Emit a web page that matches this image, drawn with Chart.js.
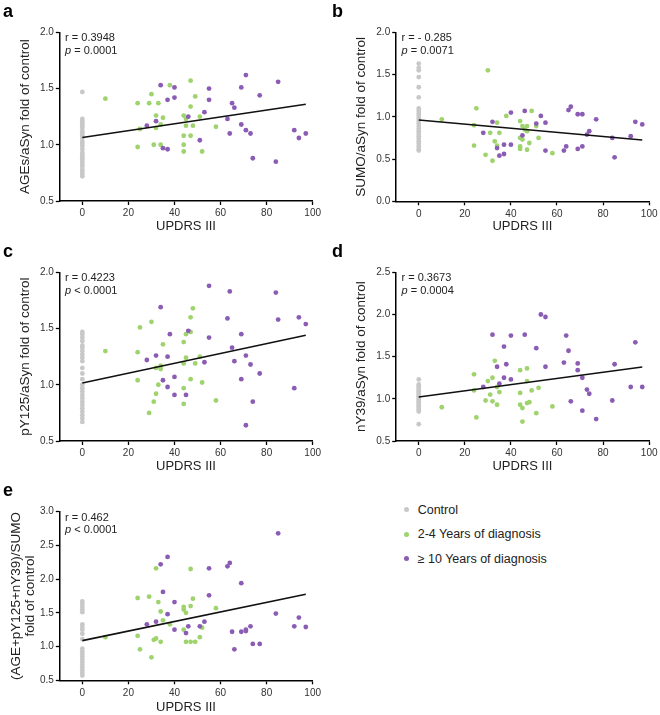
<!DOCTYPE html>
<html><head><meta charset="utf-8">
<script src="https://cdn.jsdelivr.net/npm/chart.js@4.4.0/dist/chart.umd.min.js"></script>
<style>
body{margin:0;background:#fff;width:660px;height:715px;position:relative;overflow:hidden;font-family:"Liberation Sans",Arial,sans-serif;}
canvas{position:absolute;}
.lbl{position:absolute;font-weight:bold;font-size:18px;line-height:18px;color:#000;}
.legend{position:absolute;left:403.5px;top:497.8px;font-size:12.5px;color:#222;}
.legend div{height:24.35px;display:flex;align-items:center;white-space:nowrap;}
.dot{width:5px;height:5px;border-radius:50%;margin-right:9.2px;flex:none;}
</style></head><body>
<canvas id="ca"></canvas><canvas id="cb"></canvas><canvas id="cc"></canvas><canvas id="cd"></canvas><canvas id="ce"></canvas>
<div class="lbl" style="left:3px;top:1.8px">a</div>
<div class="lbl" style="left:332px;top:1.8px">b</div>
<div class="lbl" style="left:3px;top:241.8px">c</div>
<div class="lbl" style="left:332px;top:241.8px">d</div>
<div class="lbl" style="left:3px;top:480.8px">e</div>
<div class="legend">
  <div><span class="dot" style="background:#c8c8c8"></span>Control</div>
  <div><span class="dot" style="background:#9fd36d"></span>2-4 Years of diagnosis</div>
  <div><span class="dot" style="background:#8a5cb4"></span>≥ 10 Years of diagnosis</div>
</div>
<script>
// ---------- DATA ----------
const xTicks = [0, 20, 40, 60, 80, 100];
const seriesNames = ['Control', '2-4 Years of diagnosis', '\u2265 10 Years of diagnosis'];

// Panel a: AGEs/aSyn
const aGrey = [1.47,1.23,1.21,1.19,1.17,1.15,1.12,1.10,1.08,1.06,1.03,1.01,0.99,0.96,0.93,0.91,0.89,0.87,0.85,0.83,0.81,0.78,0.76,0.74,0.72];
const aGreen = [[10,1.41],[24,1.37],[24,0.98],[25,1.14],[29,1.37],[30,1.45],[31,1.00],[32,1.26],[32,1.15],[33,1.37],[34,1.18],[34,1.00],[35,1.24],[38,1.53],[44,1.26],[44,1.08],[44,1.00],[44,0.94],[45,1.23],[45,1.17],[47,1.57],[47,1.34],[47,1.08],[48,1.17],[49,1.43],[51,1.25],[52,0.94],[58,1.16]];
const aPurple = [[28,1.17],[32,1.21],[34,1.53],[35,0.97],[37,0.96],[37,1.40],[40,1.51],[40,1.42],[46,1.25],[51,1.04],[53,1.29],[55,1.50],[55,1.40],[63,1.23],[64,1.10],[65,1.37],[66,1.33],[69,1.51],[69,1.18],[71,1.62],[71,1.13],[73,1.10],[74,0.88],[77,1.44],[84,0.85],[85,1.56],[92,1.13],[94,1.06],[97,1.10]];
const aLine = [[0,1.065],[97,1.36]];
const aYTicks = [0.5,1.0,1.5,2.0];

// Panel b: SUMO/aSyn
const bGrey = [1.63,1.58,1.55,1.47,1.35,1.23,1.10,1.07,1.04,1.01,0.98,0.95,0.92,0.89,0.86,0.83,0.80,0.77,0.74,0.71,0.68,0.65,0.62,0.60];
const bGreen = [[10,0.97],[25,1.10],[24,0.90],[24,0.66],[29,0.55],[30,1.55],[31,0.81],[32,0.48],[33,0.71],[34,0.66],[34,0.93],[35,0.81],[38,1.01],[44,0.95],[44,0.75],[44,0.65],[44,0.62],[45,0.89],[45,0.73],[46,0.85],[47,0.89],[47,0.83],[47,0.61],[48,0.69],[49,1.07],[51,0.89],[52,0.75],[58,0.57]];
const bPurple = [[28,0.81],[32,0.94],[34,0.63],[35,0.54],[37,0.67],[37,0.56],[40,1.05],[40,0.67],[45,0.78],[46,1.07],[51,0.92],[53,1.01],[55,0.93],[55,0.60],[63,0.60],[64,0.65],[65,1.08],[66,1.12],[69,1.03],[69,0.62],[71,1.03],[71,0.65],[73,0.79],[74,0.83],[77,0.97],[84,0.75],[85,0.52],[92,0.77],[94,0.94],[97,0.91]];
const bLine = [[0,0.963],[97,0.726]];
const bYTicks = [0.0,0.5,1.0,1.5,2.0];

// Panel c: pY125/aSyn
const cGrey = [1.47,1.45,1.42,1.39,1.35,1.33,1.30,1.27,1.24,1.21,1.15,1.10,1.05,1.00,0.97,0.94,0.91,0.88,0.85,0.82,0.79,0.76,0.73,0.70,0.67];
const cGreen = [[10,1.30],[24,1.29],[24,1.04],[25,1.51],[29,0.75],[30,1.56],[31,0.85],[32,0.92],[32,1.15],[33,1.00],[34,1.17],[34,1.14],[35,1.36],[44,1.38],[44,1.19],[44,0.97],[44,0.83],[45,1.45],[45,1.24],[47,1.60],[47,1.47],[47,1.05],[48,1.68],[49,1.19],[51,1.25],[52,1.02],[58,0.86]];
const cPurple = [[28,1.22],[32,1.26],[34,1.69],[35,1.04],[37,0.98],[37,1.25],[38,1.45],[40,1.07],[40,0.91],[45,0.91],[46,1.48],[53,1.20],[55,1.88],[55,1.42],[63,1.59],[64,1.83],[65,1.33],[66,1.21],[69,1.45],[69,1.05],[71,1.26],[71,0.64],[73,1.18],[74,0.85],[77,1.10],[84,1.82],[85,1.58],[92,0.97],[94,1.60],[97,1.54]];
const cLine = [[0,1.016],[97,1.44]];
const cYTicks = [0.5,1.0,1.5,2.0];

// Panel d: nY39/aSyn
const dGrey = [1.23,1.17,1.15,1.13,1.11,1.09,1.07,1.05,1.03,1.01,0.99,0.97,0.95,0.93,0.91,0.89,0.87,0.85,0.70];
const dGreen = [[10,0.90],[24,1.29],[24,1.10],[25,0.78],[29,0.98],[30,1.21],[31,1.05],[32,1.25],[32,0.97],[33,1.45],[34,0.93],[34,1.14],[35,1.08],[44,1.34],[44,1.07],[44,0.93],[45,0.89],[45,0.73],[47,1.36],[47,1.21],[47,0.95],[48,0.96],[49,1.10],[51,0.83],[52,1.13],[58,0.91]];
const dPurple = [[28,1.14],[32,1.76],[34,1.38],[35,1.18],[37,1.62],[37,1.25],[38,1.41],[40,1.75],[40,1.23],[46,1.76],[51,1.60],[53,2.00],[55,1.97],[55,1.38],[63,1.43],[64,1.75],[65,1.57],[66,0.97],[69,1.42],[69,1.34],[71,1.25],[71,0.86],[73,1.11],[74,1.06],[77,0.76],[84,0.98],[85,1.41],[92,1.14],[94,1.67],[97,1.14]];
const dLine = [[0,1.022],[97,1.377]];
const dYTicks = [0.5,1.0,1.5,2.0,2.5];

// Panel e: (AGE+pY125+nY39)/SUMO
const eGrey = [1.67,1.63,1.59,1.55,1.51,1.33,1.29,1.25,1.19,1.11,0.97,0.93,0.89,0.85,0.81,0.77,0.73,0.69,0.65,0.61,0.57];
const eGreen = [[10,1.14],[24,1.72],[24,1.16],[25,0.96],[29,1.74],[30,0.84],[31,1.10],[32,2.16],[32,1.12],[33,1.66],[34,1.52],[34,1.07],[35,1.39],[38,1.33],[44,1.59],[44,1.55],[44,1.25],[45,1.50],[45,1.07],[47,2.15],[47,1.60],[47,1.07],[48,1.71],[49,1.07],[51,1.14],[52,1.28],[58,1.57]];
const ePurple = [[28,1.33],[32,1.37],[34,2.22],[35,1.81],[37,1.48],[37,2.33],[40,1.66],[40,1.25],[45,1.20],[46,1.30],[51,1.30],[53,1.37],[55,2.16],[55,1.76],[63,2.19],[64,2.24],[65,1.22],[66,0.96],[69,1.94],[69,1.22],[71,1.23],[71,1.25],[73,1.30],[74,1.04],[77,1.04],[84,1.49],[85,2.68],[92,1.30],[94,1.43],[97,1.29]];
const eLine = [[0,1.088],[97,1.775]];
const eYTicks = [0.5,1.0,1.5,2.0,2.5,3.0];

// ---------- RENDER ----------
const FONT = '"Liberation Sans", Arial, Helvetica, sans-serif';
const COLORS = ['#c8c8c8', '#9fd36d', '#8a5cb4'];

function annotPlugin(rText, pRest) {
  return {
    id: 'annot',
    afterDraw(chart) {
      const {ctx, chartArea} = chart;
      ctx.save();
      ctx.fillStyle = '#222';
      ctx.textBaseline = 'middle';
      ctx.textAlign = 'left';
      const x = chartArea.left + 5.8;
      ctx.font = '11px ' + FONT;
      ctx.fillText(rText, x, chartArea.top + 6);
      ctx.font = 'italic 11px ' + FONT;
      ctx.fillText('p', x, chartArea.top + 18.6);
      const w = ctx.measureText('p').width;
      ctx.font = '11px ' + FONT;
      ctx.fillText(pRest, x + w, chartArea.top + 18.6);
      ctx.restore();
    }
  };
}

function makePanel(cfg) {
  const cv = document.getElementById(cfg.id);
  cv.width = cfg.w; cv.height = cfg.h;
  cv.style.left = cfg.left + 'px'; cv.style.top = cfg.top + 'px';
  cv.style.width = cfg.w + 'px'; cv.style.height = cfg.h + 'px';
  const A = cfg.area;
  const toPts = arr => arr.map(p => ({x: p[0], y: p[1]}));
  const yTitleFont = {size: 13.5, family: FONT, lineHeight: cfg.yLineH || 1.2};
  const yTitleLH = 13.5 * (cfg.yLineH || 1.2);
  const xTitleFont = {size: 13, family: FONT, lineHeight: 1.2};
  const xTitleLH = 13 * 1.2;
  new Chart(cv, {
    type: 'scatter',
    data: {
      datasets: [
        {label: 'fit', data: toPts(cfg.line), showLine: true, pointRadius: 0, borderColor: '#111', borderWidth: 1.6, fill: false},
        {label: seriesNames[2], data: toPts(cfg.purple), backgroundColor: COLORS[2], borderWidth: 0, pointRadius: 2.4},
        {label: seriesNames[1], data: toPts(cfg.green), backgroundColor: COLORS[1], borderWidth: 0, pointRadius: 2.4},
        {label: seriesNames[0], data: cfg.grey.map(v => ({x: 0, y: v})), backgroundColor: COLORS[0], borderWidth: 0, pointRadius: 2.4}
      ]
    },
    options: {
      responsive: false, animation: false, devicePixelRatio: 1,
      layout: {padding: {left: 0, top: A.t - cfg.top, right: cfg.left + cfg.w - A.r, bottom: 0}},
      plugins: {legend: {display: false}, tooltip: {enabled: false}},
      scales: {
        x: {
          type: 'linear', min: -10, max: 100,
          afterBuildTicks: s => { s.ticks = xTicks.map(v => ({value: v})); },
          afterFit: s => { s.height = cfg.top + cfg.h - A.b; },
          grid: {display: true, drawOnChartArea: false, drawTicks: true, tickLength: 4, color: '#000', tickWidth: 1.3},
          border: {display: true, color: '#000', width: 1.5},
          ticks: {font: {size: 10, family: FONT}, color: '#333', padding: 2.5, maxRotation: 0, autoSkip: false},
          title: {display: true, text: 'UPDRS III', font: xTitleFont, color: '#222',
                  padding: {top: 0, bottom: cfg.top + cfg.h - cfg.xTitleY - xTitleLH / 2}}
        },
        y: {
          type: 'linear', min: cfg.yTicks[0], max: cfg.yTicks[cfg.yTicks.length - 1],
          afterBuildTicks: s => { s.ticks = cfg.yTicks.map(v => ({value: v})); },
          afterFit: s => { s.width = A.l - cfg.left; },
          grid: {display: true, drawOnChartArea: false, drawTicks: true, tickLength: 3.5, color: '#000', tickWidth: 1.3},
          border: {display: true, color: '#000', width: 1.5},
          ticks: {font: {size: 10, family: FONT}, color: '#333', padding: 2, autoSkip: false,
                  callback: v => Number(v).toFixed(1)},
          title: {display: true, text: cfg.yTitle, font: yTitleFont, color: '#222',
                  padding: {top: cfg.yTitleX - cfg.left - yTitleLH / 2, bottom: 0}}
        }
      }
    },
    plugins: [annotPlugin(cfg.r, cfg.p)]
  });
}

makePanel({id: 'ca', left: 0, top: 0, w: 330, h: 240, area: {l: 59.3, t: 32.3, r: 312.7, b: 201},
  xTitleY: 226, yTitleX: 25.3, yTitle: 'AGEs/aSyn fold of control', yTicks: aYTicks,
  grey: aGrey, green: aGreen, purple: aPurple, line: aLine, r: 'r = 0.3948', p: ' = 0.0001'});
makePanel({id: 'cb', left: 330, top: 0, w: 330, h: 240, area: {l: 395.7, t: 32.3, r: 649.3, b: 201.3},
  xTitleY: 226, yTitleX: 361.7, yTitle: 'SUMO/aSyn fold of control', yTicks: bYTicks,
  grey: bGrey, green: bGreen, purple: bPurple, line: bLine, r: 'r = - 0.285', p: ' = 0.0071'});
makePanel({id: 'cc', left: 0, top: 240, w: 330, h: 240, area: {l: 59.3, t: 272.3, r: 312.7, b: 441},
  xTitleY: 466, yTitleX: 25.3, yTitle: 'pY125/aSyn fold of control', yTicks: cYTicks,
  grey: cGrey, green: cGreen, purple: cPurple, line: cLine, r: 'r = 0.4223', p: ' < 0.0001'});
makePanel({id: 'cd', left: 330, top: 240, w: 330, h: 240, area: {l: 395.7, t: 272.3, r: 649.3, b: 441},
  xTitleY: 466, yTitleX: 361.7, yTitle: 'nY39/aSyn fold of control', yTicks: dYTicks,
  grey: dGrey, green: dGreen, purple: dPurple, line: dLine, r: 'r = 0.3673', p: ' = 0.0004'});
makePanel({id: 'ce', left: 0, top: 480, w: 330, h: 235, area: {l: 59.3, t: 511.7, r: 312.7, b: 680.3},
  xTitleY: 707.7, yTitleX: 16.7, yLineH: 14 / 13.5, yTitle: ['(AGE+pY125+nY39)/SUMO', 'fold of control'], yTicks: eYTicks,
  grey: eGrey, green: eGreen, purple: ePurple, line: eLine, r: 'r = 0.462', p: ' < 0.0001'});
</script>
</body></html>
